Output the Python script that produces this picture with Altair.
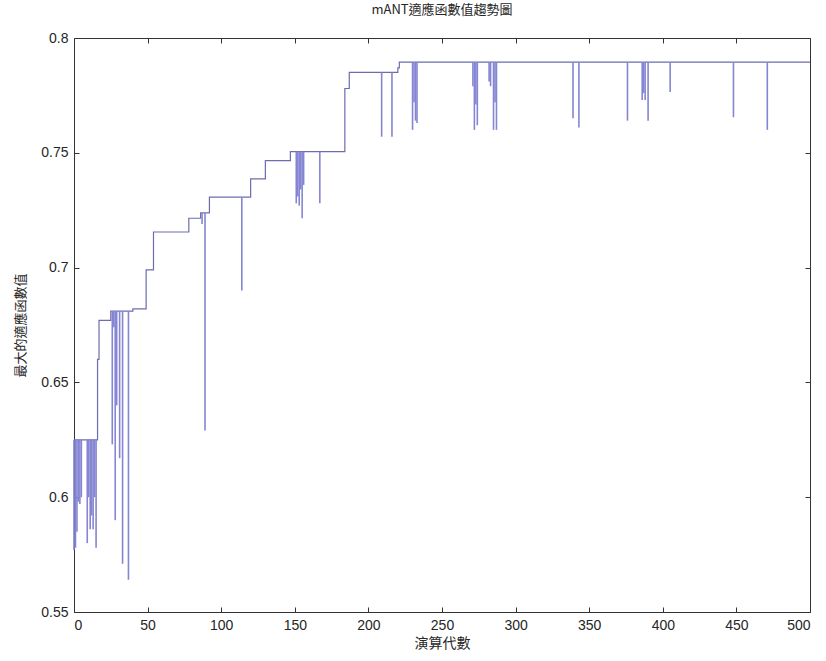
import altair as alt
import pandas as pd

# ---- text ----
chart_title = "mANT適應函數值趨勢圖"
x_title = "演算代數"
y_title = "最大的適應函數值"
x_ticks = [0, 50, 100, 150, 200, 250, 300, 350, 400, 450, 500]
y_ticks = [0.55, 0.6, 0.65, 0.7, 0.75, 0.8]

# ---- data ----
# best-so-far level: generation at which each level starts, and its value
level_start = [0, 16, 17, 25, 40, 49, 54, 78, 86, 92, 120, 130, 147, 184, 187, 220, 221]
level_value = [0.625, 0.660, 0.677, 0.681, 0.682, 0.699, 0.7155, 0.7215, 0.7238,
               0.7307, 0.7386, 0.7466, 0.7505, 0.778, 0.785, 0.787, 0.7895]

# generations whose best value dropped below the level, and the value reached
dip_gen = [0, 1, 2, 3, 4, 5, 9, 10, 11, 12, 13, 14, 15,
           26, 27, 28, 29, 31, 33, 37,
           87, 89, 114,
           151, 152, 153, 154, 155, 156, 167,
           209, 216,
           230, 231, 232, 233,
           271, 272, 273, 274,
           282, 283, 285, 286, 287,
           339, 343, 376,
           386, 387, 388, 390,
           405, 448, 471]
dip_value = [0.577, 0.578, 0.585, 0.598, 0.597, 0.600, 0.580, 0.600, 0.586, 0.592, 0.586, 0.600, 0.578,
             0.623, 0.674, 0.590, 0.640, 0.617, 0.571, 0.564,
             0.719, 0.629, 0.690,
             0.728, 0.731, 0.727, 0.734, 0.7215, 0.736, 0.728,
             0.757, 0.757,
             0.760, 0.772, 0.764, 0.763,
             0.779, 0.760, 0.771, 0.762,
             0.781, 0.779, 0.760, 0.772, 0.760,
             0.765, 0.761, 0.764,
             0.773, 0.776, 0.773, 0.764,
             0.7765, 0.7655, 0.760]

last_gen = 500


def level_at(g):
    lvl = level_value[0]
    for s, v in zip(level_start, level_value):
        if g >= s:
            lvl = v
    return lvl


levels = pd.DataFrame({"gen": list(range(last_gen + 1))})
levels["fit"] = [level_at(g) for g in levels["gen"]]

dips = pd.DataFrame({"gen": dip_gen, "dip": dip_value})
dips["level"] = [level_at(g) for g in dips["gen"]]

FONT = "Liberation Sans"
CJK = "Noto Sans CJK TC"
TXT = "#262626"
LINE = "#6c6cae"
DIP = "#8585d4"

x_scale = alt.Scale(domain=[0, 500], nice=False, zero=False)
y_scale = alt.Scale(domain=[0.55, 0.8], nice=False, zero=False)

main = alt.Chart(levels).mark_line(color=LINE, strokeWidth=1.2,
                                   interpolate="step-after").encode(
    x=alt.X("gen:Q", scale=x_scale,
            axis=alt.Axis(orient="bottom", values=x_ticks, offset=-5, tickSize=5,
                          domain=False, grid=False, labelPadding=6,
                          labelFont=FONT, labelFontSize=14, labelColor=TXT,
                          tickColor="#333333", title=x_title, titleFont=CJK,
                          titleFontSize=14, titleFontWeight="normal",
                          titleColor=TXT, titlePadding=4)),
    y=alt.Y("fit:Q", scale=y_scale,
            axis=alt.Axis(orient="left", values=y_ticks, format="~g", offset=-5,
                          tickSize=5, domain=False, grid=False, labelPadding=6,
                          labelFont=FONT, labelFontSize=14, labelColor=TXT,
                          tickColor="#333333", title=y_title, titleFont=CJK,
                          titleFontSize=13, titleFontWeight="normal",
                          titleColor=TXT, titlePadding=13)),
)

mirror = alt.Chart(levels).mark_line(strokeOpacity=0).encode(
    x=alt.X("gen:Q", scale=x_scale,
            axis=alt.Axis(orient="top", values=x_ticks, offset=-5, tickSize=5,
                          domain=False, grid=False, labels=False, title="",
                          tickColor="#333333")),
    y=alt.Y("fit:Q", scale=y_scale,
            axis=alt.Axis(orient="right", values=y_ticks, offset=-5, tickSize=5,
                          domain=False, grid=False, labels=False, title="",
                          tickColor="#333333")),
)

dip_rules = alt.Chart(dips).mark_rule(color=DIP, strokeWidth=1.6).encode(
    x=alt.X("gen:Q", scale=x_scale, axis=None),
    y=alt.Y("dip:Q", scale=y_scale, axis=None),
    y2="level:Q",
)

chart = alt.layer(main, mirror, dip_rules).properties(
    width=736,
    height=574,
    title=alt.TitleParams(chart_title, font=CJK, fontSize=13, fontWeight="normal",
                          color=TXT, offset=14, anchor="middle"),
    autosize=alt.AutoSizeParams(type="none"),
    padding={"left": 74, "top": 38, "right": 16, "bottom": 49},
    background="white",
).configure_view(stroke="#333333", strokeWidth=1)

chart.save("out.html", embed_options={"renderer": "svg", "actions": False})
